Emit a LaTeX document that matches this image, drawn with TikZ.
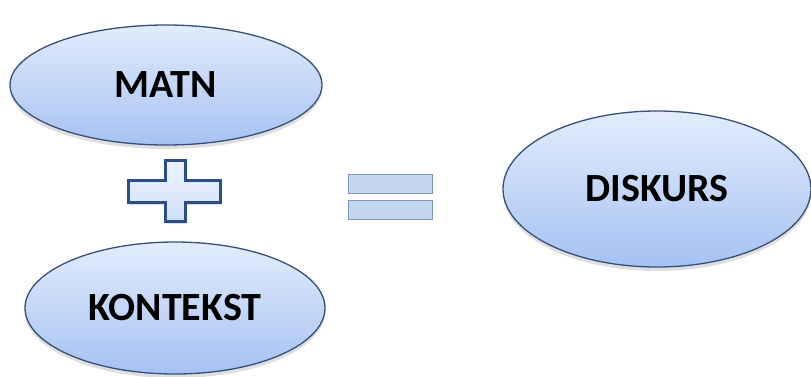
\documentclass[tikz,border=0pt]{standalone}
\usepackage{fontspec}
\setmainfont{Carlito}
\usetikzlibrary{shapes.geometric,shadows}
\definecolor{rimblue}{HTML}{34507A}
\definecolor{topblue}{HTML}{E2ECFC}
\definecolor{botblue}{HTML}{A6C2F3}
\definecolor{plusrim}{HTML}{2A4F86}
\definecolor{eqfill}{HTML}{C5D7EF}
\definecolor{eqrim}{HTML}{7C99C4}
\tikzset{
  bubble/.style={ellipse, draw=rimblue, line width=1.3pt, top color=topblue,
    bottom color=botblue, inner sep=0pt, font=\fontsize{40}{42}\selectfont\bfseries,
    drop shadow={shadow xshift=0pt, shadow yshift=-4pt, opacity=0.25}},
  eqbar/.style={draw=eqrim, line width=1pt, fill=eqfill}
}
\begin{document}
\begin{tikzpicture}[x=1pt, y=-1pt]
            \useasboundingbox (0,0) rectangle (811,376);
            \node[bubble, minimum width=312pt, minimum height=120pt] (matn) at (166,85) {MATN};
            \node[bubble, minimum width=300pt, minimum height=132pt] (kontekst) at (175,308) {KONTEKST};
            \node[bubble, minimum width=308pt, minimum height=156pt] (diskurs) at (657,189) {DISKURS};
            % plus sign
            \draw[draw=plusrim, line width=3pt, top color=topblue!60!white, bottom color=topblue!70!botblue,
              drop shadow={shadow xshift=1pt, shadow yshift=-3pt, opacity=0.25}]
              (165,160) -- (185,160) -- (185,180) -- (220,180) -- (220,202) -- (185,202)
              -- (185,221) -- (165,221) -- (165,202) -- (128,202) -- (128,180) -- (165,180) -- cycle;
            % equals sign
            \draw[eqbar] (348,174) rectangle (432,193);
            \draw[eqbar] (348,200) rectangle (432,219);
        \end{tikzpicture}
\end{document}
